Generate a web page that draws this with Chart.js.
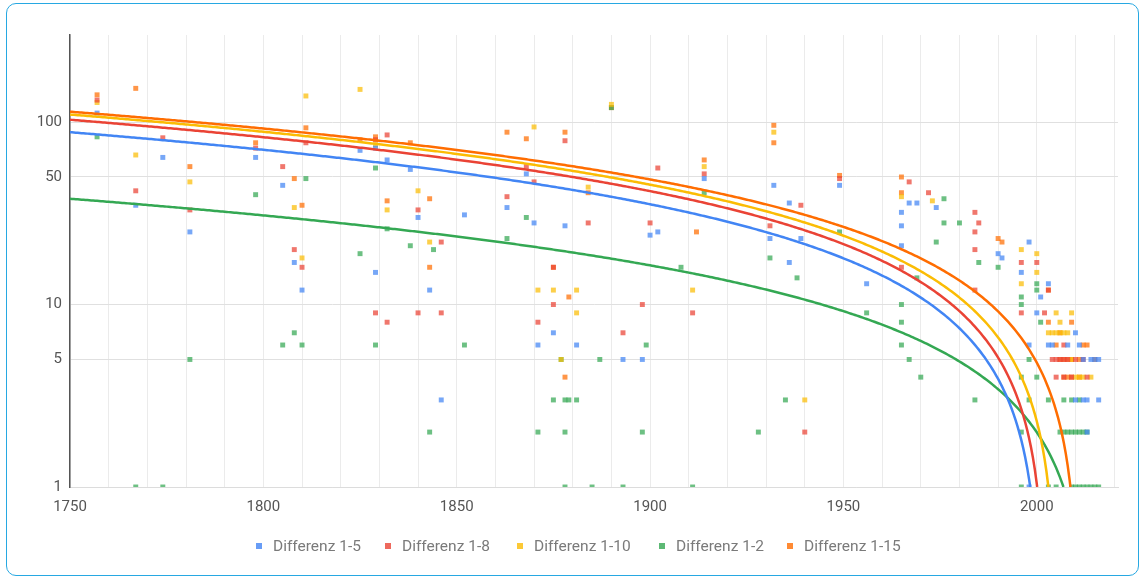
<!DOCTYPE html>
<html>
<head>
<meta charset="utf-8">
<script src="https://cdn.jsdelivr.net/npm/chart.js@4"></script>
<style>
  body { margin: 0; background: #fff; font-family: Roboto, sans-serif; }
  #frame { position: absolute; left: 6px; top: 3px; width: 1131px; height: 571px; border: 1.5px solid #27a8e2; border-radius: 10px; }
  #chart { position: absolute; left: 0; top: 0; }
  .item { position: absolute; top: 537px; display: flex; align-items: center; font-size: 15.5px; color: #7a7a7a; white-space: nowrap; line-height: 18px; }
  .mark { width: 6px; height: 6px; margin-right: 11px; }
</style>
</head>
<body>
<div id="frame"></div>
<canvas id="chart" width="1146" height="582"></canvas>
<div id="legend"></div>
<script>
// scatter values [year, difference]
const diff1_5 = [
  [1757,112],[1767,35],[1774,64],[1781,25],[1798,64],[1805,45],[1808,17],[1810,12],[1825,70],[1829,72],
  [1829,15],[1832,62],[1838,55],[1840,30],[1843,12],[1846,3],[1852,31],[1863,34],[1868,52],[1870,28],
  [1871,6],[1875,7],[1878,27],[1881,6],[1893,5],[1898,5],[1900,24],[1902,25],[1914,49],[1931,23],
  [1932,45],[1936,36],[1936,17],[1939,23],[1949,45],[1956,13],[1965,32],[1965,27],[1965,21],[1967,36],
  [1969,36],[1974,34],[1990,19],[1991,18],[1996,15],[1998,22],[1998,6],[2000,9],[2001,11],[2003,13],
  [2003,6],[2010,7],[2011,6],[2012,5],[2013,2],[2014,5],[2016,5],[2013,3],[2016,3],[1998,1],
  [2004,6],[2008,6],[2012,3],[2015,5],[2010,3]
];
const diff1_8 = [
  [1757,132],[1767,42],[1774,82],[1781,33],[1798,72],[1805,57],[1808,20],[1810,16],[1811,77],[1829,80],
  [1829,9],[1832,85],[1832,8],[1840,33],[1840,9],[1846,22],[1846,9],[1863,39],[1868,57],[1870,47],
  [1871,8],[1875,16],[1875,10],[1878,79],[1884,28],[1893,7],[1898,10],[1900,28],[1902,56],[1911,9],
  [1914,52],[1931,27],[1939,35],[1940,2],[1949,49],[1965,16],[1967,47],[1972,41],[1984,32],[1984,25],
  [1984,20],[1984,12],[1985,28],[1996,17],[1996,9],[2000,17],[2002,9],[2003,12],[2006,5],[2007,5],
  [2007,6],[2009,4],[2012,5],[2013,4],[2004,5],[2005,5],[2008,5],[2010,5],[2007,4],[2005,4]
];
const diff1_10 = [
  [1757,128],[1767,66],[1781,47],[1808,34],[1810,18],[1811,139],[1825,151],[1829,75],[1832,33],[1840,42],
  [1843,22],[1870,94],[1871,12],[1875,12],[1877,5],[1881,12],[1881,9],[1884,44],[1890,125],[1911,12],
  [1914,57],[1932,88],[1940,3],[1965,39],[1973,37],[1996,20],[1996,13],[2000,19],[2000,15],[2004,7],
  [2005,9],[2006,7],[2008,7],[2009,9],[2010,4],[2014,4],[2003,7],[2005,7],[2007,7],[2011,4],[2012,4],
  [2009,5],[2006,8]
];
const diff1_2 = [
  [1757,83],[1767,1],[1774,1],[1781,5],[1798,40],[1805,6],[1808,7],[1810,6],[1811,49],[1825,19],
  [1829,56],[1829,6],[1832,26],[1838,21],[1843,2],[1844,20],[1852,6],[1863,23],[1868,30],[1871,2],
  [1875,3],[1877,5],[1878,3],[1878,2],[1879,3],[1878,1],[1881,3],[1885,1],[1887,5],[1890,120],
  [1893,1],[1898,2],[1899,6],[1908,16],[1911,1],[1914,41],[1928,2],[1931,18],[1935,3],[1938,14],
  [1949,25],[1956,9],[1965,10],[1965,8],[1965,6],[1967,5],[1969,14],[1970,4],[1974,22],[1976,38],
  [1976,28],[1980,28],[1984,3],[1985,17],[1990,16],[1996,11],[1996,10],[1996,4],[1996,2],[1996,1],
  [1998,5],[1998,3],[2000,13],[2000,12],[2000,4],[2001,8],[2003,3],[2003,1],[2005,1],[2006,2],
  [2007,3],[2008,2],[2009,3],[2009,1],[2010,2],[2011,2],[2011,1],[2012,2],[2013,1],[2016,1],
  [2007,2],[2009,2],[2013,2],[2011,3],[2010,1],[2012,1],[2014,1],[2015,1]
];
const diff1_15 = [
  [1757,141],[1767,153],[1781,57],[1798,77],[1808,49],[1810,35],[1811,93],[1825,80],[1829,83],[1832,37],
  [1838,77],[1843,38],[1843,16],[1863,88],[1868,81],[1875,16],[1878,88],[1879,11],[1878,4],[1884,41],
  [1890,120],[1912,25],[1914,62],[1932,96],[1932,77],[1949,51],[1965,50],[1965,41],[1990,23],[1991,22],
  [2003,12],[2003,8],[2005,6],[2007,4],[2008,5],[2009,5],[2009,8],[2011,4],[2012,6],[2013,6],[2015,5],
  [2006,5],[2007,5],[2008,4],[2009,4],[2006,7],[2011,5]
];

const seriesNames = ['Differenz 1-5', 'Differenz 1-8', 'Differenz 1-10', 'Differenz 1-2', 'Differenz 1-15'];
const seriesData = [diff1_5, diff1_8, diff1_10, diff1_2, diff1_15];
const colors = ['#4285f4', '#ea4335', '#fbbc04', '#34a853', '#ff6d01'];

// linear trendlines: value at 1750 and the year where they reach 1
const trendStart = [88, 103, 110, 38, 114];
const trendEndYear = [1998.3, 2000.1, 2003.0, 2006.9, 2008.7];

const yTicks = [1, 5, 10, 50, 100];
const legendLeft = [256, 385, 517, 659, 787];

function hexA(hex, a) {
    const n = parseInt(hex.slice(1), 16);
    return `rgba(${n >> 16},${(n >> 8) & 255},${n & 255},${a})`;
}

function trendPoints(i) {
    const a = trendStart[i], end = trendEndYear[i];
    const slope = (a - 1) / (end - 1750);
    const pts = [];
    for (let t = 1750; t < end; t += 0.5) pts.push({ x: t, y: a - slope * (t - 1750) });
    pts.push({ x: end, y: 1 });
    return pts;
}

const datasets = [];
seriesData.forEach((rows, i) => {
    datasets.push({
        label: seriesNames[i],
        data: rows.map(r => ({ x: r[0], y: r[1] })),
        pointStyle: 'rect',
        pointRadius: 3.5,
        backgroundColor: hexA(colors[i], 0.72),
        borderWidth: 0,
        order: 1
    });
});
seriesData.forEach((rows, i) => {
    datasets.push({
        label: seriesNames[i] + ' trend',
        data: trendPoints(i),
        showLine: true,
        pointRadius: 0,
        borderColor: colors[i],
        borderWidth: 2.5,
        order: 0
    });
});

const tickFont = { family: 'Roboto', size: 15 };

new Chart(document.getElementById('chart'), {
    type: 'scatter',
    data: { datasets },
    options: {
        responsive: false,
        animation: false,
        layout: { padding: { left: 0, right: 28, top: 35, bottom: 65 } },
        plugins: { legend: { display: false }, tooltip: { enabled: false } },
        scales: {
            x: {
                type: 'linear', min: 1750, max: 2021,
                afterFit: s => { s.height = 30; },
                ticks: {
                    stepSize: 10, includeBounds: false, autoSkip: false, maxRotation: 0,
                    padding: 11, color: '#555', font: tickFont,
                    callback: v => (v % 50 === 0 ? String(v) : '')
                },
                grid: { color: '#ebebeb', drawTicks: false },
                border: { color: '#dcdcdc' }
            },
            y: {
                type: 'logarithmic', min: 1, max: 300,
                afterFit: s => { s.width = 70; },
                afterBuildTicks: s => { s.ticks = yTicks.map(v => ({ value: v })); },
                ticks: { padding: 8, color: '#555', font: tickFont, callback: v => String(v) },
                grid: { color: '#e0e0e0', drawTicks: false },
                border: { color: '#555', width: 1.5 }
            }
        }
    }
});

// legend under the plot
const legend = document.getElementById('legend');
seriesNames.forEach((name, i) => {
    const item = document.createElement('div');
    item.className = 'item';
    item.style.left = legendLeft[i] + 'px';
    item.innerHTML = `<span class="mark" style="background:${hexA(colors[i], 0.8)}"></span><span>${name}</span>`;
    legend.appendChild(item);
});
</script>
</body>
</html>
